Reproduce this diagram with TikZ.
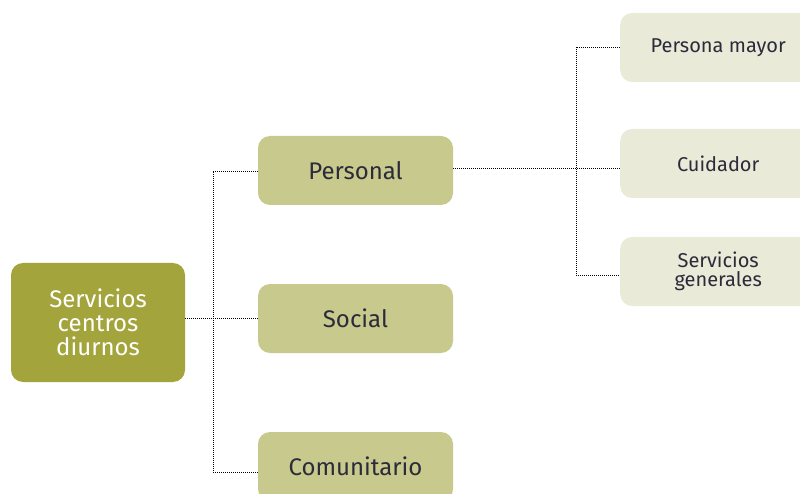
\documentclass[tikz,border=0pt]{standalone}
\usepackage{fontspec}
\setmainfont{Fira Sans}
\definecolor{rootc}{HTML}{A3A43C}
\definecolor{midc}{HTML}{C8C98C}
\definecolor{leafc}{HTML}{E9EAD7}
\definecolor{txtc}{HTML}{2B2B3A}
\begin{document}
\begin{tikzpicture}[x=1pt,y=-1pt,
  box/.style={rounded corners=12pt,inner sep=0pt,align=center},
  rootbox/.style={box,fill=rootc,minimum width=174pt,minimum height=119pt,text=white,font=\fontsize{24}{24}\selectfont},
  midbox/.style={box,fill=midc,minimum width=195pt,minimum height=69pt,text=txtc,font=\fontsize{24}{24}\selectfont},
  leafbox/.style={box,fill=leafc,minimum width=196pt,minimum height=69pt,text=txtc,font=\fontsize{20}{19}\selectfont},
  link/.style={draw=black,line width=0.7pt,dash pattern=on 1pt off 1pt}]
\useasboundingbox (0,0) rectangle (800,494);
\node[rootbox] (root) at (98,322.5) {Servicios\\centros\\diurnos};
\node[midbox] (pers) at (355.5,170.5) {Personal};
\node[midbox] (soc) at (355.5,318.5) {Social};
\node[midbox] (com) at (355.5,466.5) {Comunitario};
\node[leafbox,anchor=west] (pm) at (620,47.5) {Persona mayor};
\node[leafbox,anchor=west] (cu) at (620,163.5) {Cuidador};
\node[leafbox,anchor=west] (sg) at (620,271.5) {Servicios\\generales};
\coordinate (j1) at (213,318);
\coordinate (j1t) at (213,171);
\coordinate (j1b) at (213,472);
\coordinate (j2) at (576,168);
\coordinate (j2t) at (576,47);
\coordinate (j2b) at (576,275);
\draw[link] (root.east |- j1) -- (soc.west |- j1);
\draw[link] (pers.west |- j1t) -- (j1t) -- (j1b) -- (com.west |- j1b);
\draw[link] (pers.east |- j2) -- (cu.west |- j2);
\draw[link] (pm.west |- j2t) -- (j2t) -- (j2b) -- (sg.west |- j2b);
\end{tikzpicture}
\end{document}
